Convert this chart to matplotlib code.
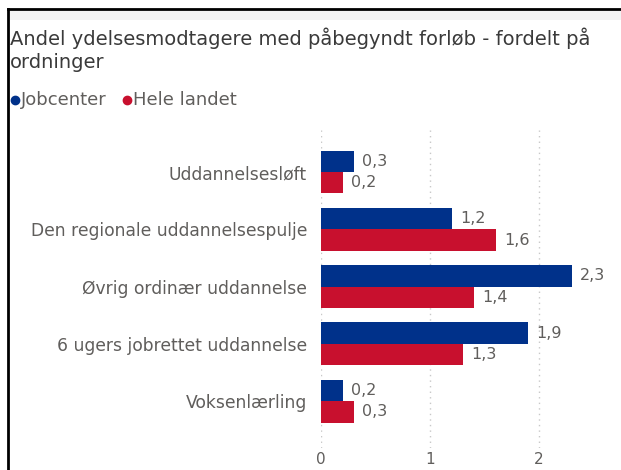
import matplotlib
matplotlib.use("Agg")
import matplotlib.pyplot as plt
from matplotlib.lines import Line2D
from matplotlib.patches import Rectangle
import numpy as np

categories = ["Uddannelsesløft", "Den regionale uddannelsespulje", "Øvrig ordinær uddannelse",
              "6 ugers jobrettet uddannelse", "Voksenlærling"]
jobcenter = [0.3, 1.2, 2.3, 1.9, 0.2]
hele_landet = [0.2, 1.6, 1.4, 1.3, 0.3]
series_names = ["Jobcenter", "Hele landet"]
xticks = [0, 1, 2]

BLUE = "#00318A"
RED = "#C8102E"
GRAY = "#605E5C"

fig = plt.figure(figsize=(6.21, 4.70), dpi=100)
W, H = 621, 470

top_px, bot_px = 130, 448
ax = fig.add_axes([321 / W, 1 - bot_px / H, 1 - 321 / W, (bot_px - top_px) / H])
y = np.arange(len(categories))
h = 0.375
ax.barh(y - h / 2, jobcenter, height=h, color=BLUE)
ax.barh(y + h / 2, hele_landet, height=h, color=RED)
for yi, v in zip(y, jobcenter):
    ax.annotate(f"{v:.1f}".replace(".", ","), (v, yi - h / 2), xytext=(6, 0),
                textcoords="offset points", va="center", ha="left", fontsize=11.5, color=GRAY)
for yi, v in zip(y, hele_landet):
    ax.annotate(f"{v:.1f}".replace(".", ","), (v, yi + h / 2), xytext=(6, 0),
                textcoords="offset points", va="center", ha="left", fontsize=11.5, color=GRAY)

# category spacing ~57.3 px; first category centre at y=172 px
sp = 57.3
ax.set_xlim(0, 2.75)
ax.set_ylim((bot_px - 172) / sp, -(172 - top_px) / sp)
ax.set_yticks(y)
ax.set_yticklabels(categories, fontsize=12.3, color=GRAY)
ax.set_xticks(xticks)
ax.set_xticklabels([str(t) for t in xticks], fontsize=11, color=GRAY)
ax.tick_params(axis="both", length=0)
ax.tick_params(axis="y", pad=10)
ax.tick_params(axis="x", pad=3)
for s in ax.spines.values():
    s.set_visible(False)
ax.grid(axis="x", linestyle=(0, (1, 3)), color="#C8C8C8", linewidth=1)
ax.set_axisbelow(True)

# frame
fig.add_artist(Rectangle((8 / W, 10 / H), 1, 1 - 20 / H, transform=fig.transFigure,
                         facecolor="#F3F3F3", edgecolor="none", zorder=-2))
fig.add_artist(Rectangle((9 / W, 0), 1, 1 - 20 / H, transform=fig.transFigure,
                         facecolor="white", edgecolor="none", zorder=-1))
fig.add_artist(Line2D([8 / W, 8 / W], [0, 1 - 9 / H], transform=fig.transFigure,
                      color="black", linewidth=2))
fig.add_artist(Line2D([8 / W, 1], [1 - 9 / H, 1 - 9 / H], transform=fig.transFigure,
                      color="black", linewidth=2))

fig.text(10 / W, 1 - 50 / H, "Andel ydelsesmodtagere med påbegyndt forløb - fordelt på\nordninger",
         fontsize=14, color="#3A3A3A", va="center", ha="left", linespacing=1.3)

# legend
fig.add_artist(Line2D([15 / W], [1 - 100 / H], marker="o", color=BLUE, markersize=6,
                      transform=fig.transFigure, linestyle="none"))
fig.text(21 / W, 1 - 100 / H, series_names[0], fontsize=13, color=GRAY, va="center", ha="left")
fig.add_artist(Line2D([127 / W], [1 - 100 / H], marker="o", color=RED, markersize=6,
                      transform=fig.transFigure, linestyle="none"))
fig.text(133 / W, 1 - 100 / H, series_names[1], fontsize=13, color=GRAY, va="center", ha="left")

fig.savefig("out.png", dpi=100)
